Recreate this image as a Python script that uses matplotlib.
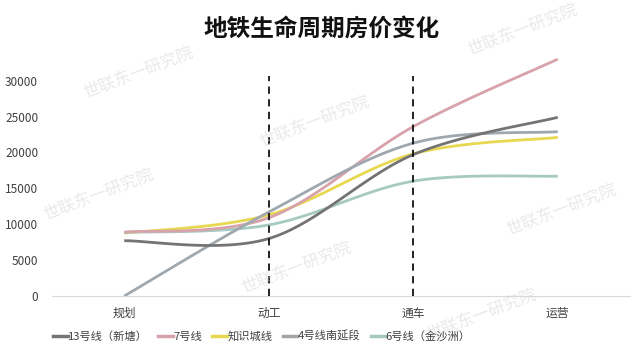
import numpy as np
import matplotlib
matplotlib.use("Agg")
import matplotlib.pyplot as plt

plt.rcParams['font.family'] = ['Noto Sans CJK SC', 'DejaVu Sans']

categories = ["规划", "动工", "通车", "运营"]
series_names = ["13号线（新塘）", "7号线", "知识城线", "4号线南延段", "6号线（金沙洲）"]
line13 = [7700, 8000, 19700, 24900]
line7 = [8900, 10900, 23600, 33000]
line_zsc = [8750, 11300, 19800, 22100]
line4 = [0, 11700, 21300, 22900]
line6 = [8850, 9900, 16000, 16700]
yticks = [0, 5000, 10000, 15000, 20000, 25000, 30000]
series_values = [line13, line7, line_zsc, line4, line6]
colors = ["#747474", "#d8a2ab", "#e8d850", "#9ea8ae", "#a6c9c2"]
legend_colors = ["#747474", "#d8a2ab", "#e8d850", "#a5a5a5", "#a6c9c2"]
zorders = [3.5, 3.3, 3.1, 3.4, 3.2]


def smooth(xs, ys, n=40):
    xs = np.asarray(xs, float)
    ys = np.asarray(ys, float)
    px = np.concatenate([[xs[0]], xs, [xs[-1]]])
    py = np.concatenate([[ys[0]], ys, [ys[-1]]])
    outx, outy = [], []
    t = np.linspace(0, 1, n)
    for i in range(1, len(px) - 2):
        p0 = np.array([px[i], py[i]])
        p3 = np.array([px[i + 1], py[i + 1]])
        c1 = p0 + (np.array([px[i + 1], py[i + 1]]) - np.array([px[i - 1], py[i - 1]])) / 6
        c2 = p3 - (np.array([px[i + 2], py[i + 2]]) - np.array([px[i], py[i]])) / 6
        b = ((1 - t) ** 3)[:, None] * p0 + (3 * (1 - t) ** 2 * t)[:, None] * c1 \
            + (3 * (1 - t) * t ** 2)[:, None] * c2 + (t ** 3)[:, None] * p3
        outx.extend(b[:, 0]); outy.extend(b[:, 1])
    return outx, outy


fig = plt.figure(figsize=(6.4, 3.58), dpi=100)
ax = fig.add_axes([52 / 640, 1 - 296 / 358, (630 - 52) / 640, (296 - 57) / 358])

x = np.arange(len(categories))
handles = []
for name, vals, c, lc, z in zip(series_names, series_values, colors, legend_colors, zorders):
    sx, sy = smooth(x, vals)
    ax.plot(sx, sy, color=c, lw=2.0, solid_capstyle='butt', zorder=z)
    h, = ax.plot([], [], color=lc, lw=2.5, label=name)
    handles.append(h)

for xv in [1, 2]:
    ax.plot([xv, xv], [0, 30700], color="#111111", lw=1.3, ls=(0, (4, 3)), zorder=4)

ax.set_xlim(-0.5, 3.5)
ax.set_ylim(0, 33300)
ax.set_yticks(yticks)
ax.set_yticklabels([str(v) for v in yticks])
ax.set_xticks(x)
ax.set_xticklabels(categories)
for s in ["top", "right", "left"]:
    ax.spines[s].set_visible(False)
ax.spines["bottom"].set_color("#d9d9d9")
ax.tick_params(axis="both", length=0, labelsize=8.5, colors="#404040")
ax.tick_params(axis="x", pad=8)
ax.tick_params(axis="y", pad=10)

fig.text(0.502, 1 - 29 / 358, "地铁生命周期房价变化", ha="center", va="center",
         fontsize=17, fontweight="bold", color="#111111")

leg = fig.legend(handles=handles, loc="center", ncol=5, frameon=False,
                 bbox_to_anchor=(262 / 640, 1 - 336 / 358), fontsize=8.1,
                 handlelength=1.3, handletextpad=0.05, columnspacing=0.9)
for t in leg.get_texts():
    t.set_color("#404040")

wm = [(138, 73), (314, 122), (522, 30), (98, 195), (561, 210), (296, 268), (481, 315)]
for wx, wy in wm:
    fig.text(wx / 640, 1 - wy / 358, "世联东一研究院", ha="center", va="center",
             rotation=21, fontsize=12, color="#d4d4d4", alpha=0.5, zorder=0)

fig.savefig("out.png", dpi=100)
